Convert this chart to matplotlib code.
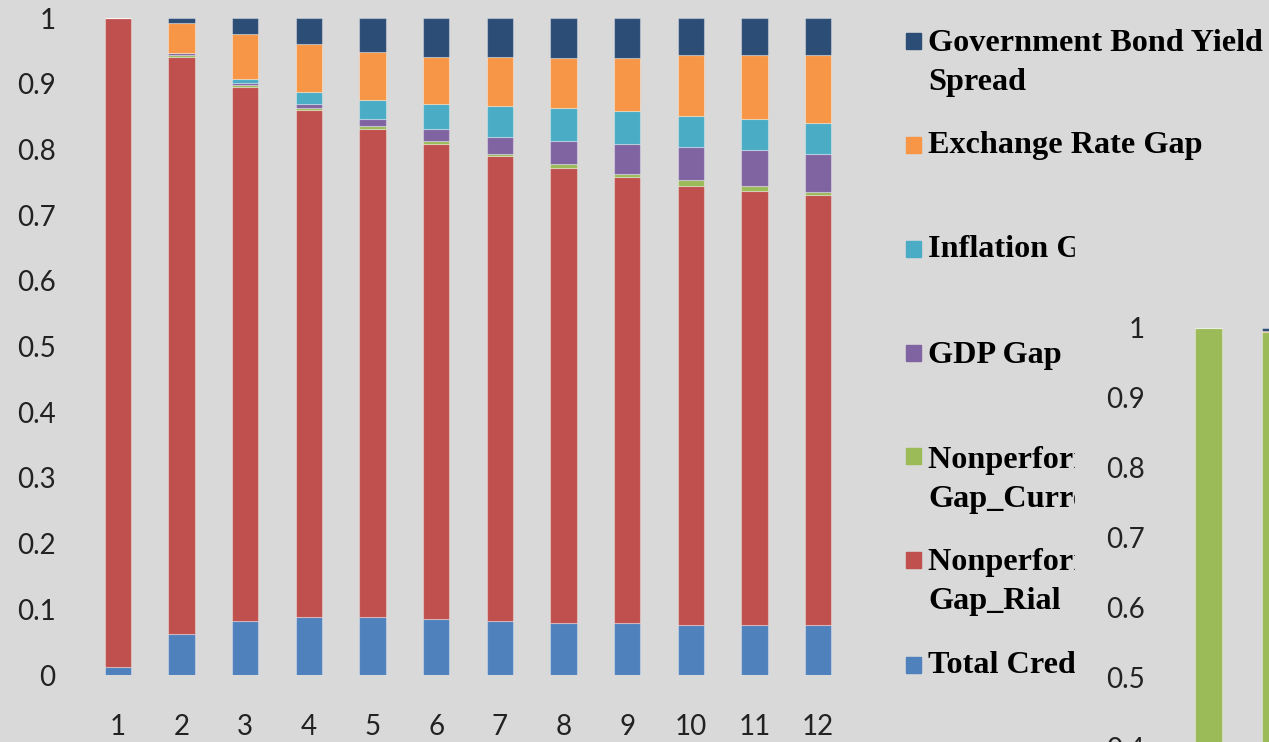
import numpy as np
import matplotlib
matplotlib.use("Agg")
import matplotlib.pyplot as plt
from matplotlib.patches import Rectangle

# data (share of each component, horizons 1..12)
horizons = np.arange(1, 13)
total_credit = [0.012, 0.062, 0.082, 0.088, 0.088, 0.085, 0.082, 0.079, 0.079, 0.076, 0.076, 0.076]
npl_rial     = [0.988, 0.878, 0.8135, 0.772, 0.7425, 0.723, 0.708, 0.693, 0.6785, 0.669, 0.661, 0.6546]
npl_currency = [0.0, 0.003, 0.0025, 0.0035, 0.0055, 0.005, 0.003, 0.006, 0.0055, 0.009, 0.008, 0.0051]
gdp_gap      = [0.0, 0.003, 0.0035, 0.0055, 0.010, 0.0175, 0.0263, 0.035, 0.045, 0.050, 0.0536, 0.0568]
inflation    = [0.0, 0.001, 0.006, 0.018, 0.029, 0.039, 0.0467, 0.0505, 0.050, 0.047, 0.0474, 0.0472]
exchange     = [0.0, 0.046, 0.0675, 0.073, 0.074, 0.0705, 0.074, 0.0761, 0.0816, 0.092, 0.097, 0.1033]
bond_spread  = [0.0, 0.007, 0.025, 0.040, 0.051, 0.060, 0.060, 0.0604, 0.0604, 0.057, 0.057, 0.057]

series = [total_credit, npl_rial, npl_currency, gdp_gap, inflation, exchange, bond_spread]
colors = ['#4F81BD', '#C0504D', '#9BBB59', '#8064A2', '#4BACC6', '#F79646', '#2C4D75']
labels = ['Total Credit Gap', 'Nonperforming Loans\nGap_Rial', 'Nonperforming Loans\nGap_Currency',
          'GDP Gap', 'Inflation Gap', 'Exchange Rate Gap', 'Government Bond Yield\nSpread']

# second (overlapping) chart, only two bars are visible
horizons2 = [1, 2]
green2  = [1.0, 0.994]
orange2 = [0.0, 0.0017]
navy2   = [0.0, 0.0043]

ytick_vals = np.round(np.arange(0, 1.01, 0.1), 1)
ytick_labels = ['0', '0.1', '0.2', '0.3', '0.4', '0.5', '0.6', '0.7', '0.8', '0.9', '1']

bg = '#D9D9D9'
W, H = 1269, 742
fig = plt.figure(figsize=(W / 100, H / 100), dpi=100, facecolor=bg)

def style_axes(ax):
    ax.set_facecolor(bg)
    for s in ax.spines.values():
        s.set_visible(False)
    ax.tick_params(length=0)
    ax.set_ylim(0, 1)
    ax.set_yticks(ytick_vals)
    ax.set_yticklabels(ytick_labels, fontfamily='Lato', fontsize=20, color='#222222')
    ax.tick_params(axis='y', pad=22)

# main chart
ax = fig.add_axes([86 / W, 1 - 675 / H, 764 / W, 657 / H])
style_axes(ax)
bottom = np.zeros(len(horizons))
for vals, c in zip(series, colors):
    ax.bar(horizons, vals, width=0.41, bottom=bottom, color=c,
           edgecolor=(1, 1, 1, 0.35), linewidth=0.8)
    bottom += np.array(vals)
ax.set_xlim(0.5, 12.5)
ax.set_xticks(horizons)
ax.set_xticklabels([str(h) for h in horizons], fontfamily='Lato', fontsize=20, color='#222222')
ax.tick_params(axis='x', pad=28)

# legend drawn by hand (top item first)
marker_y = [665, 560, 456, 353, 249, 145, 41]
text_y   = [665, 582, 480, 355, 250, 145, 63]
for lab, c, my, ty in zip(labels, colors, marker_y, text_y):
    fig.patches.append(Rectangle((906 / W, 1 - (my + 8) / H), 15 / W, 16 / H,
                                 transform=fig.transFigure, color=c, zorder=3))
    fig.text(928 / W, 1 - ty / H, lab, fontfamily='Liberation Serif', fontweight='bold',
             fontsize=23.2, va='center', ha='left', linespacing=1.45, zorder=3)

# the second chart's area hides the rest of the legend
fig.patches.append(Rectangle((1075 / W, 0), (W - 1075) / W, 1 - 200 / H,
                             transform=fig.transFigure, color=bg, zorder=4))

ax2 = fig.add_axes([1175 / W, 1 - 1028 / H, 804 / W, 700 / H], zorder=5)
style_axes(ax2)
b2 = np.zeros(len(horizons2))
for vals, c in zip([green2, orange2, navy2], ['#9BBB59', '#F79646', '#2C4D75']):
    ax2.bar(horizons2, vals, width=0.41, bottom=b2, color=c,
            edgecolor=(1, 1, 1, 0.35), linewidth=0.8)
    b2 += np.array(vals)
ax2.set_xlim(0.5, 12.5)
ax2.set_xticks([])

fig.savefig('out.png', dpi=100, facecolor=bg)
